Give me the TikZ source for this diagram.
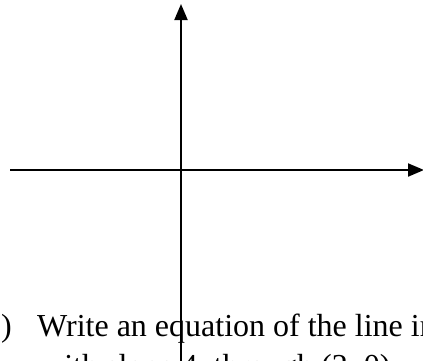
\documentclass[tikz,border=0pt]{standalone}
\usepackage{fontspec}
\setmainfont{Liberation Serif}
\usepackage{tikz}
\usetikzlibrary{arrows.meta}
\tikzset{
  axis-line/.style={draw=black, line width=2pt, -{Triangle[length=16pt, width=13pt]}},
  question-text/.style={inner sep=0pt, anchor=base west, font=\fontsize{32}{38}\selectfont}
}

\begin{document}
\begin{tikzpicture}[x=1pt, y=-1pt]
  \useasboundingbox (0,0) rectangle (423,360);
  \clip (0,0) rectangle (423,360);

  % question text (cut off by the page)
  \node[question-text] (qnum) at (1,336) {)};
  \node[question-text] (qline1) at (37,336) {Write an equation of the line in};
  \node[question-text] (qline2) at (41,376) {with slope 4, through (2, 0)};

  % axes
  \coordinate (origin) at (181,170);
  \coordinate (ybot) at (181,370);
  \coordinate (ytop) at (181,4);
  \coordinate (xleft) at (10,170);
  \coordinate (xright) at (424,170);
  \draw[axis-line] (ybot) -- (ytop);
  \draw[axis-line] (xleft) -- (xright);
\end{tikzpicture}
\end{document}
